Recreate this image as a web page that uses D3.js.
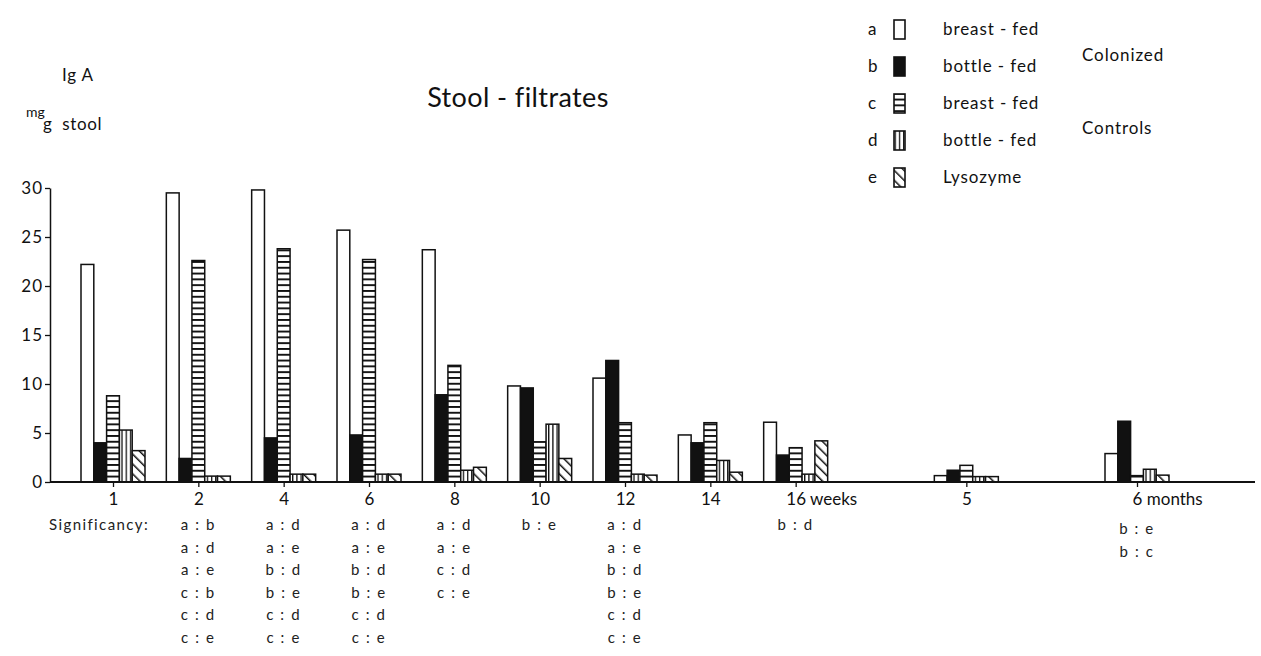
<!DOCTYPE html>
<html>
<head>
<meta charset="utf-8">
<script src="https://cdn.jsdelivr.net/npm/d3@7"></script>
<style>
  html, body { margin: 0; padding: 0; background: #fff; }
  svg { display: block; font-family: Lato, "Open Sans", sans-serif; }
</style>
</head>
<body>
<svg id="chart" width="1261" height="656"></svg>
<script>
// Sampling times: weeks after birth, then months
const weeks = ["1", "2", "4", "6", "8", "10", "12", "14", "16 weeks"];
const months = ["5", "6 months"];
const categories = weeks.concat(months);

// IgA in stool filtrates, mg / g stool
const colonizedBreast = [22.2, 29.5, 29.8, 25.7, 23.7, 9.8, 10.6, 4.8, 6.1, 0.65, 2.9];
const colonizedBottle = [4.0, 2.4, 4.5, 4.8, 8.9, 9.6, 12.4, 4.0, 2.75, 1.2, 6.2];
const controlBreast   = [8.8, 22.6, 23.8, 22.7, 11.9, 4.1, 6.05, 6.05, 3.5, 1.7, 0.65];
const controlBottle   = [5.3, 0.6, 0.8, 0.8, 1.2, 5.9, 0.8, 2.2, 0.8, 0.55, 1.3];
const lysozyme        = [3.2, 0.6, 0.8, 0.8, 1.5, 2.4, 0.7, 1.0, 4.2, 0.55, 0.7];

const seriesKeys   = ["a", "b", "c", "d", "e"];
const seriesLabels = ["breast - fed", "bottle - fed", "breast - fed", "bottle - fed", "Lysozyme"];
const groupLabels  = ["Colonized", "Controls"];

const yTicks = [0, 5, 10, 15, 20, 25, 30];

// Significant pairs listed under each sampling time
const significance = [
  [],
  ["a : b", "a : d", "a : e", "c : b", "c : d", "c : e"],
  ["a : d", "a : e", "b : d", "b : e", "c : d", "c : e"],
  ["a : d", "a : e", "b : d", "b : e", "c : d", "c : e"],
  ["a : d", "a : e", "c : d", "c : e"],
  ["b : e"],
  ["a : d", "a : e", "b : d", "b : e", "c : d", "c : e"],
  [],
  ["b : d"],
  [],
  ["b : e", "b : c"]
];

const seriesValues = [colonizedBreast, colonizedBottle, controlBreast, controlBottle, lysozyme];
const table = categories.map((cat, i) => {
  const row = { cat };
  seriesKeys.forEach((k, j) => row[k] = seriesValues[j][i]);
  return row;
});

const svg = d3.select("#chart");
const ink = "#111";

// ---- fill patterns ----
const defs = svg.append("defs");
const hp = defs.append("pattern").attr("id", "pat-c")
  .attr("patternUnits", "userSpaceOnUse").attr("width", 8).attr("height", 5.8);
hp.append("rect").attr("width", 8).attr("height", 5.8).attr("fill", "#fff");
hp.append("rect").attr("width", 8).attr("height", 1.9).attr("fill", ink);

const vp = defs.append("pattern").attr("id", "pat-d")
  .attr("patternUnits", "userSpaceOnUse").attr("width", 4.2).attr("height", 8);
vp.append("rect").attr("width", 4.2).attr("height", 8).attr("fill", "#fff");
vp.append("rect").attr("width", 1.3).attr("height", 8).attr("fill", ink);

const dp = defs.append("pattern").attr("id", "pat-e")
  .attr("patternUnits", "userSpaceOnUse").attr("width", 7).attr("height", 7)
  .attr("patternTransform", "rotate(-45)");
dp.append("rect").attr("width", 7).attr("height", 7).attr("fill", "#fff");
dp.append("rect").attr("width", 1.5).attr("height", 7).attr("fill", ink);

const fills = { a: "#fff", b: ink, c: "url(#pat-c)", d: "url(#pat-d)", e: "url(#pat-e)" };

// ---- scales ----
// months are set apart by an empty slot before each of them
const slots = weeks.slice();
months.forEach((m, i) => { slots.push("gap" + i); slots.push(m); });

const x = d3.scalePoint().domain(slots).range([113, 1137]);
const x1 = d3.scaleBand().domain(seriesKeys).range([-32, 32]).padding(0);
const y = d3.scaleLinear().domain([0, 30]).range([482, 188]);

// ---- bars ----
const groups = svg.append("g").selectAll("g")
  .data(table).join("g")
  .attr("transform", d => `translate(${x(d.cat)},0)`);

groups.selectAll("rect")
  .data(d => seriesKeys.map(k => ({ key: k, value: d[k] })))
  .join("rect")
  .attr("x", d => x1(d.key))
  .attr("y", d => y(d.value))
  .attr("width", x1.bandwidth())
  .attr("height", d => y(0) - y(d.value))
  .attr("fill", d => fills[d.key])
  .attr("stroke", ink)
  .attr("stroke-width", 1.5);

// ---- axes ----
const yAxis = svg.append("g")
  .attr("transform", "translate(50,0)")
  .call(d3.axisLeft(y).tickValues(yTicks).tickSize(5).tickSizeOuter(0).tickPadding(2));
yAxis.select(".domain").attr("stroke", ink).attr("stroke-width", 1.5);
yAxis.selectAll(".tick line").attr("stroke", ink).attr("stroke-width", 1.3);
yAxis.selectAll("text").attr("font-size", 17).attr("fill", ink)
  .attr("letter-spacing", 1)
  .attr("font-family", "Lato, sans-serif");

svg.append("line")
  .attr("x1", 50).attr("x2", 1255)
  .attr("y1", y(0)).attr("y2", y(0))
  .attr("stroke", ink).attr("stroke-width", 1.8);

const xAxis = svg.append("g")
  .attr("transform", `translate(0,${y(0)})`)
  .call(d3.axisBottom(x).tickValues(categories).tickSize(5).tickPadding(6));
xAxis.select(".domain").remove();
xAxis.selectAll(".tick line").attr("stroke", ink).attr("stroke-width", 1.3);
xAxis.selectAll("text")
  .attr("font-size", 17).attr("fill", ink).attr("font-family", "Lato, sans-serif")
  .each(function (d) {
    const parts = d.split(" ");
    if (parts.length < 2) return;
    // keep the number centred on its tick, unit runs to the right
    const t = d3.select(this).text(null).attr("text-anchor", "start");
    const num = t.append("tspan").text(parts[0]);
    t.append("tspan").text(" " + parts.slice(1).join(" "));
    t.attr("x", -num.node().getComputedTextLength() / 2);
  });

// ---- significance table ----
const sigTop = 530, sigStep = 22.6;
svg.append("text")
  .attr("x", 49).attr("y", sigTop)
  .attr("font-size", 15).attr("letter-spacing", 1.4).attr("fill", "#222")
  .text("Significancy:");

categories.forEach((cat, i) => {
  svg.append("g").selectAll("text")
    .data(significance[i]).join("text")
    .attr("x", x(cat))
    .attr("y", (d, j) => sigTop + j * sigStep + (months.includes(cat) ? 4 : 0))
    .attr("text-anchor", "middle")
    .attr("font-size", 15).attr("letter-spacing", 1.6).attr("fill", "#222")
    .text(d => d);
});

// ---- titles ----
svg.append("text").attr("x", 518).attr("y", 107)
  .attr("text-anchor", "middle").attr("font-size", 27)
  .attr("letter-spacing", 0.4).attr("fill", ink)
  .text("Stool - filtrates");

svg.append("text").attr("x", 62).attr("y", 81)
  .attr("font-size", 17).attr("letter-spacing", 0.8).attr("fill", ink).text("Ig A");
svg.append("text").attr("x", 26).attr("y", 117)
  .attr("font-size", 14).attr("fill", ink).text("mg");
svg.append("text").attr("x", 43).attr("y", 130)
  .attr("font-size", 17).attr("letter-spacing", 0.6).attr("fill", ink)
  .attr("xml:space", "preserve").style("white-space", "pre")
  .text("g  stool");

// ---- legend ----
const legend = svg.append("g");
seriesKeys.forEach((k, i) => {
  const cy = 29 + i * 37;
  legend.append("text").attr("x", 868).attr("y", cy + 6)
    .attr("font-size", 17).attr("fill", ink).text(k);
  legend.append("rect").attr("x", 894).attr("y", cy - 9)
    .attr("width", 11).attr("height", 19)
    .attr("fill", fills[k]).attr("stroke", ink).attr("stroke-width", 1.6);
  legend.append("text").attr("x", 943).attr("y", cy + 6)
    .attr("font-size", 17).attr("letter-spacing", 0.9).attr("fill", ink)
    .text(seriesLabels[i]);
});
legend.append("text").attr("x", 1082).attr("y", 61)
  .attr("font-size", 17).attr("letter-spacing", 0.9).attr("fill", ink).text(groupLabels[0]);
legend.append("text").attr("x", 1082).attr("y", 134)
  .attr("font-size", 17).attr("letter-spacing", 0.9).attr("fill", ink).text(groupLabels[1]);
</script>
</body>
</html>
